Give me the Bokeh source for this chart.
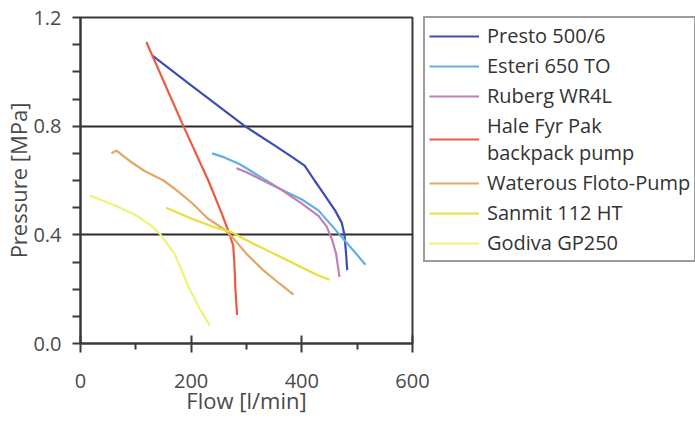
from bokeh.plotting import figure
from bokeh.models import FixedTicker, Legend, LegendItem, Range1d, PrintfTickFormatter
from bokeh.embed import file_html
from bokeh.resources import INLINE

# ---- data (flow l/min, pressure MPa) ----
presto_flow = [130, 200, 297, 350, 380, 405, 423, 440, 460, 472, 477, 480, 482]
presto_pres = [1.06, 0.95, 0.80, 0.73, 0.69, 0.655, 0.60, 0.55, 0.49, 0.445, 0.40, 0.33, 0.27]

esteri_flow = [238, 260, 288, 320, 360, 400, 430, 460, 490, 515]
esteri_pres = [0.70, 0.685, 0.66, 0.62, 0.57, 0.53, 0.49, 0.42, 0.35, 0.29]

ruberg_flow = [282, 300, 330, 360, 400, 430, 445, 455, 462, 468]
ruberg_pres = [0.645, 0.63, 0.60, 0.57, 0.515, 0.47, 0.43, 0.38, 0.33, 0.245]

hale_flow = [119, 186, 231, 255, 267, 276, 278, 280, 283]
hale_pres = [1.11, 0.80, 0.60, 0.48, 0.415, 0.36, 0.30, 0.20, 0.105]

waterous_flow = [56, 65, 90, 116, 150, 170, 200, 230, 260, 275, 300, 330, 360, 385]
waterous_pres = [0.70, 0.71, 0.67, 0.635, 0.60, 0.57, 0.52, 0.46, 0.42, 0.39, 0.33, 0.27, 0.22, 0.18]

sanmit_flow = [155, 200, 240, 273, 300, 340, 370, 400, 430, 450]
sanmit_pres = [0.50, 0.46, 0.43, 0.41, 0.38, 0.34, 0.31, 0.28, 0.25, 0.235]

godiva_flow = [17, 60, 98, 130, 145, 170, 195, 215, 234]
godiva_pres = [0.545, 0.51, 0.475, 0.43, 0.40, 0.33, 0.21, 0.13, 0.065]

series_names = ["Presto 500/6", "Esteri 650 TO", "Ruberg WR4L", "Hale Fyr Pak\nbackpack pump",
                "Waterous Floto-Pump", "Sanmit 112 HT", "Godiva GP250"]
series_colors = ["#3d4db5", "#62aee6", "#c27fb3", "#ec5a42", "#e3a765", "#e6df3c", "#eef27a"]

x_major = [0, 200, 400, 600]
x_minor = [100, 300, 500]
y_major = [0.0, 0.4, 0.8, 1.2]
y_minor = [0.1, 0.2, 0.3, 0.5, 0.6, 0.7, 0.9, 1.0, 1.1]

FONT = "Open Sans"
TXT = "#4a4a4a"

p = figure(frame_width=332, frame_height=326, x_range=Range1d(0, 600), y_range=Range1d(0, 1.2),
           output_backend="svg", toolbar_location=None,
           min_border_left=79, min_border_right=0, min_border_top=17, min_border_bottom=82,
           x_axis_label="Flow [l/min]", y_axis_label="Pressure [MPa]")
p.background_fill_color = "white"
p.border_fill_color = "white"
p.outline_line_color = "#3a3a3a"
p.outline_line_width = 2

data = [(presto_flow, presto_pres), (esteri_flow, esteri_pres), (ruberg_flow, ruberg_pres),
        (hale_flow, hale_pres), (waterous_flow, waterous_pres), (sanmit_flow, sanmit_pres),
        (godiva_flow, godiva_pres)]
items = []
for (fx, fy), name, col in zip(data, series_names, series_colors):
    r = p.line(fx, fy, line_color=col, line_width=2.2)
    items.append(LegendItem(label=name, renderers=[r]))

# axes
for ax in (p.xaxis[0], p.yaxis[0]):
    ax.axis_line_color = "#3a3a3a"
    ax.axis_line_width = 2
    ax.major_tick_line_color = "#3a3a3a"
    ax.major_tick_line_width = 2
    ax.minor_tick_line_color = "#3a3a3a"
    ax.minor_tick_line_width = 2
    ax.major_label_text_font = FONT
    ax.major_label_text_font_size = "20px"
    ax.major_label_text_color = TXT
    ax.axis_label_text_font = FONT
    ax.axis_label_text_font_size = "22px"
    ax.axis_label_text_font_style = "normal"
    ax.axis_label_text_color = TXT

p.xaxis.ticker = FixedTicker(ticks=x_major, minor_ticks=x_minor)
p.xaxis.major_tick_in = 8
p.xaxis.major_tick_out = 9
p.xaxis.minor_tick_in = 0
p.xaxis.minor_tick_out = 6
p.xaxis.major_label_standoff = 21
p.xaxis.axis_label_standoff = -6

p.yaxis.ticker = FixedTicker(ticks=y_major, minor_ticks=y_minor)
p.yaxis.formatter = PrintfTickFormatter(format="%.1f")
p.yaxis.major_tick_in = 0
p.yaxis.major_tick_out = 8
p.yaxis.minor_tick_in = 0
p.yaxis.minor_tick_out = 8
p.yaxis.major_label_standoff = 11
p.yaxis.axis_label_standoff = -3

p.xgrid.visible = False
p.ygrid.ticker = FixedTicker(ticks=[0.4, 0.8])
p.ygrid.grid_line_color = "#2a2a2a"
p.ygrid.grid_line_width = 2

legend = Legend(items=items, location=(11, 81))
legend.margin = 0
legend.padding = 4
legend.spacing = 3
legend.glyph_width = 50
legend.glyph_height = 24
legend.label_height = 24
legend.label_standoff = 8
legend.label_text_font = FONT
legend.label_text_font_size = "20px"
legend.label_text_line_height = 0.82
legend.label_text_color = "#333333"
legend.border_line_color = "#3a3a3a"
legend.border_line_width = 2
legend.background_fill_color = "white"
legend.background_fill_alpha = 1.0
p.add_layout(legend, "right")

open("out.html", "w").write(file_html(p, INLINE))
